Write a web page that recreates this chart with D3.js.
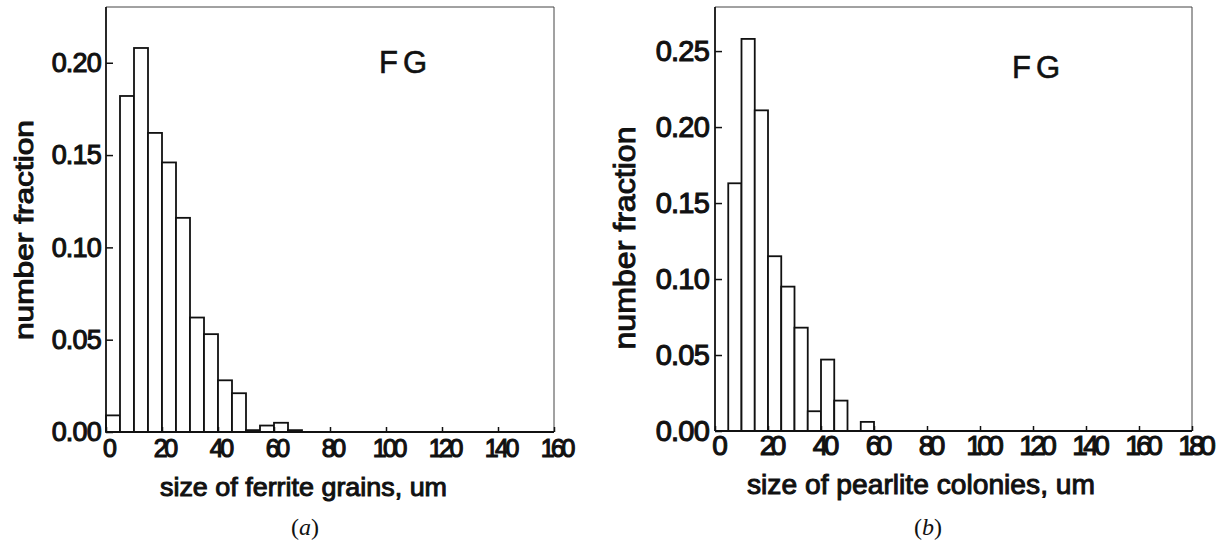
<!DOCTYPE html>
<html>
<head>
<meta charset="utf-8">
<script src="https://cdn.jsdelivr.net/npm/d3@7/dist/d3.min.js"></script>
<style>
  body { margin: 0; background: #fff; }
  svg { display: block; }
  text { font-family: "Liberation Sans", Arial, sans-serif; fill: #111; }
</style>
</head>
<body>
<svg id="chart" width="1225" height="542"></svg>
<script>
// ---- data ----
const ferriteBinStart = [0, 5, 10, 15, 20, 25, 30, 35, 40, 45, 50, 55, 60, 65];
const ferriteFraction = [0.009, 0.182, 0.208, 0.162, 0.146, 0.116, 0.062, 0.053, 0.028, 0.021, 0.001, 0.0035, 0.005, 0.001];
const pearliteBinStart = [5, 10, 15, 20, 25, 30, 35, 40, 45, 55];
const pearliteFraction = [0.163, 0.258, 0.211, 0.115, 0.095, 0.068, 0.013, 0.047, 0.020, 0.006];
const binWidth = 5;
const ferriteXTicks = [0, 20, 40, 60, 80, 100, 120, 140, 160];
const pearliteXTicks = [0, 20, 40, 60, 80, 100, 120, 140, 160, 180];
const ferriteYTicks = [0.00, 0.05, 0.10, 0.15, 0.20];
const pearliteYTicks = [0.00, 0.05, 0.10, 0.15, 0.20, 0.25];

const svg = d3.select("#chart");
const FONT = "'Liberation Sans', Arial, sans-serif";

function panel(cfg) {
  const x = d3.scaleLinear().domain(cfg.xDomain).range([cfg.left, cfg.right]);
  const y = d3.scaleLinear().domain(cfg.yDomain).range([cfg.bottom, cfg.top]);
  const g = svg.append("g");

  // bars
  g.selectAll("rect.bar")
    .data(cfg.bins.map((b, i) => ({ b, v: cfg.values[i] })))
    .enter().append("rect")
    .attr("class", "bar")
    .attr("x", d => x(d.b))
    .attr("width", d => x(d.b + binWidth) - x(d.b))
    .attr("y", d => y(d.v))
    .attr("height", d => y(0) - y(d.v))
    .attr("fill", "#fff")
    .attr("stroke", "#111")
    .attr("stroke-width", 1.8);

  // frame (top & right thin)
  g.append("path")
    .attr("d", `M${cfg.left},${cfg.top}H${cfg.right}V${cfg.bottom}`)
    .attr("fill", "none").attr("stroke", "#444").attr("stroke-width", 1);

  // y axis
  const ya = g.append("g").attr("transform", `translate(${cfg.left},0)`)
    .call(d3.axisLeft(y).tickValues(cfg.yTicks).tickFormat(d3.format(".2f"))
      .tickSize(-7).tickPadding(cfg.yPad));
  ya.select(".domain").attr("stroke", "#111").attr("stroke-width", 1.8)
    .attr("d", `M0,${cfg.top}V${cfg.bottom}`);
  ya.selectAll(".tick line").attr("stroke", "#111").attr("stroke-width", 1.5);
  ya.selectAll(".tick text")
    .attr("font-size", cfg.yFs).attr("fill", "#111")
    .attr("stroke", "#111").attr("stroke-width", 1.1)
    .attr("letter-spacing", -0.8)
    .style("font-family", FONT);

  // x axis
  const xa = g.append("g").attr("transform", `translate(0,${cfg.bottom})`)
    .call(d3.axisBottom(x).tickValues(cfg.xTicks).tickFormat(d3.format("d"))
      .tickSize(-5).tickPadding(cfg.xPad));
  xa.select(".domain").attr("stroke", "#111").attr("stroke-width", 1.8)
    .attr("d", `M${cfg.left},0H${cfg.right}`);
  xa.selectAll(".tick line").attr("stroke", "#111").attr("stroke-width", 1.5);
  xa.selectAll(".tick text")
    .attr("font-size", cfg.xFs).attr("fill", "#111")
    .attr("stroke", "#111").attr("stroke-width", 1.1)
    .attr("letter-spacing", cfg.xLs)
    .attr("dx", -cfg.xLs / 2)
    .attr("dy", null).attr("y", cfg.xTickBase - cfg.bottom)
    .style("font-family", FONT);

  // y label
  svg.append("text")
    .attr("transform", `translate(${cfg.yLabX},${cfg.yLabY}) rotate(-90)`)
    .attr("text-anchor", "middle")
    .attr("font-size", cfg.yLabFs)
    .attr("stroke", "#111").attr("stroke-width", 1.0)
    .attr("textLength", cfg.yLabLen).attr("lengthAdjust", "spacingAndGlyphs")
    .text("number fraction");

  // x label
  svg.append("text")
    .attr("x", cfg.xLabX).attr("y", cfg.xLabY)
    .attr("font-size", cfg.xLabFs)
    .attr("stroke", "#111").attr("stroke-width", 1.0)
    .attr("textLength", cfg.xLabLen).attr("lengthAdjust", "spacingAndGlyphs")
    .text(cfg.xLabel);

  // FG annotation
  svg.append("text")
    .attr("x", cfg.fgX).attr("y", cfg.fgY)
    .attr("font-size", 31).attr("letter-spacing", 5)
    .attr("stroke", "#111").attr("stroke-width", 0.6)
    .text("FG");

  // panel caption
  const cap = svg.append("text")
    .attr("x", cfg.capX).attr("y", 535)
    .attr("text-anchor", "middle")
    .attr("font-size", 24)
    .style("font-family", "'Liberation Serif', 'Times New Roman', serif");
  cap.append("tspan").text("(");
  cap.append("tspan").attr("font-style", "italic").text(cfg.capLetter);
  cap.append("tspan").text(")");
}

panel({
  left: 106, right: 554, top: 7, bottom: 432,
  xDomain: [0, 160], yDomain: [0, 0.2302],
  bins: ferriteBinStart, values: ferriteFraction,
  xTicks: ferriteXTicks, yTicks: ferriteYTicks,
  yFs: 27, yPad: 5, xFs: 25, xLs: -3.5, xPad: 8, xTickBase: 457,
  yLabX: 33, yLabY: 230, yLabFs: 26, yLabLen: 220,
  xLabX: 160, xLabY: 496, xLabFs: 26, xLabLen: 287,
  xLabel: "size of ferrite grains, um",
  fgX: 379, fgY: 73,
  capX: 305, capLetter: "a"
});

panel({
  left: 715, right: 1192, top: 7, bottom: 431,
  xDomain: [0, 180], yDomain: [0, 0.279],
  bins: pearliteBinStart, values: pearliteFraction,
  xTicks: pearliteXTicks, yTicks: pearliteYTicks,
  yFs: 29, yPad: 6, xFs: 28, xLs: -4.5, xPad: 8, xTickBase: 455,
  yLabX: 635, yLabY: 238, yLabFs: 30, yLabLen: 223,
  xLabX: 747, xLabY: 494, xLabFs: 28, xLabLen: 348,
  xLabel: "size of pearlite colonies, um",
  fgX: 1012, fgY: 78,
  capX: 928, capLetter: "b"
});
</script>
</body>
</html>
